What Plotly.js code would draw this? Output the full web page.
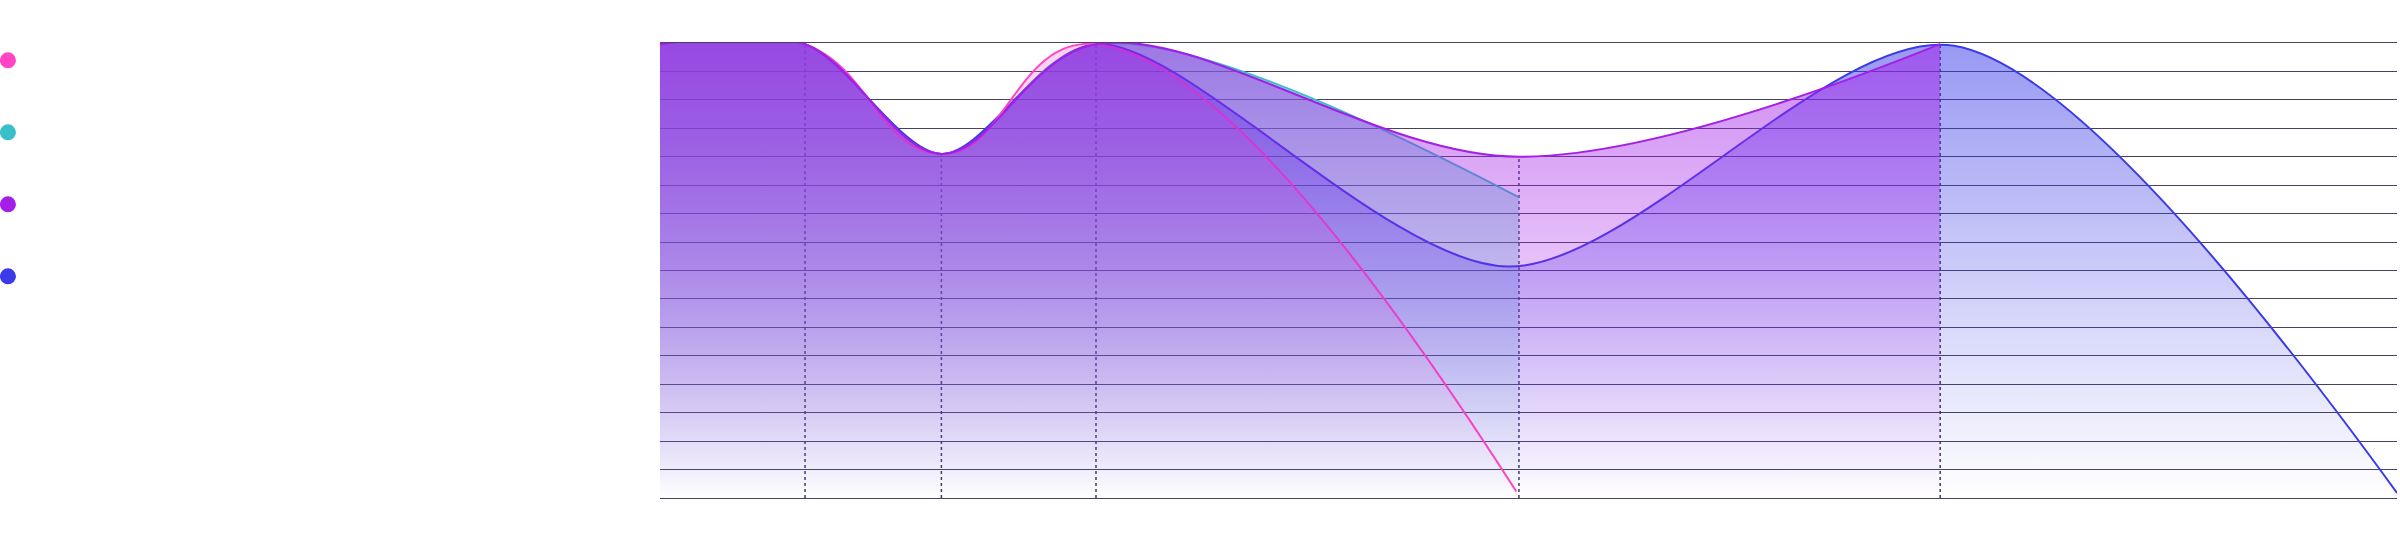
<!DOCTYPE html>
<html>
<head>
<meta charset="utf-8">
<script src="https://cdn.plot.ly/plotly-3.0.1.min.js"></script>
<style>html,body{margin:0;padding:0;background:#fff;}#chart{width:2400px;height:547px;}</style>
</head>
<body>
<div id="chart"></div>
<script>
// ---- data ----
const seriesNames = ["Series A", "Series B", "Series C", "Series D"];
const seriesColors = ["#ff44c4", "#3bbfc6", "#a31fe8", "#3a3ae8"];

const xPink   = [0, 8.35, 16.2, 25.1, 49.3];
const yPink   = [159.6, 159.6, 121, 159.6, 2.3];

const xTeal   = [0, 8.35, 16.2, 25.1, 49.45];
const yTeal   = [159.6, 159.6, 121, 159.6, 105.7];

const xPurple = [0, 8.35, 16.2, 25.1, 49.45, 73.7];
const yPurple = [159.6, 159.6, 121, 159.6, 120, 159.6];

const xBlue   = [0, 8.35, 16.2, 25.1, 48.8, 74.5, 100];
const yBlue   = [159.6, 159.6, 121, 159.6, 81.4, 159, 1.8];

const yMax = 160, yStep = 10, xMax = 100;

function rgba(hex, a) {
  const n = parseInt(hex.slice(1), 16);
  return `rgba(${(n >> 16) & 255},${(n >> 8) & 255},${n & 255},${a})`;
}

function areaTrace(x, y, color, name, smoothing, topAlpha) {
  return {
    type: 'scatter', mode: 'lines', x: x, y: y, name: name,
    line: {color: color, width: 2, shape: 'spline', smoothing: smoothing},
    fill: 'tozeroy',
    fillgradient: {type: 'vertical', start: 0, stop: yMax,
      colorscale: [[0, rgba(color, 0)], [1, rgba(color, topAlpha)]]},
    showlegend: false, hoverinfo: 'skip'
  };
}

// drop lines from purple points (except the first) to the baseline
const dropX = [], dropY = [];
for (let i = 1; i < xPurple.length; i++) {
  dropX.push(xPurple[i], xPurple[i], null);
  dropY.push(0, yPurple[i], null);
}

const traces = [
  {type: 'scatter', mode: 'lines', x: dropX, y: dropY,
   line: {color: 'rgba(45,35,80,0.9)', width: 1.5, dash: 'dot'},
   showlegend: false, hoverinfo: 'skip'},
  areaTrace(xTeal, yTeal, seriesColors[1], seriesNames[1], 1, 0.53),
  areaTrace(xBlue, yBlue, seriesColors[3], seriesNames[3], 0.85, 0.52),
  areaTrace(xPink, yPink, seriesColors[0], seriesNames[0], 1.3, 0.25),
  areaTrace(xPurple, yPurple, seriesColors[2], seriesNames[2], 1, 0.53)
];

// legend entries (dots only, no label)
seriesNames.forEach((n, i) => {
  traces.push({type: 'scatter', mode: 'markers', x: [null], y: [null], name: '',
    marker: {color: seriesColors[i], size: 16}, showlegend: true, hoverinfo: 'skip'});
});

const gridColor = 'rgba(25,20,55,0.8)';
const layout = {
  width: 2400, height: 547,
  margin: {l: 660, r: 3, t: 43, b: 49, autoexpand: false},
  paper_bgcolor: '#ffffff', plot_bgcolor: '#ffffff',
  hovermode: false,
  xaxis: {range: [0, xMax], showgrid: false, zeroline: false, showticklabels: false, ticks: '',
          showline: true, mirror: true, linecolor: gridColor, linewidth: 1, layer: 'below traces', fixedrange: true},
  yaxis: {range: [0, yMax], dtick: yStep, tick0: 0, showgrid: true, gridcolor: gridColor, gridwidth: 1,
          zeroline: false, showticklabels: false, ticks: '', showline: false, fixedrange: true},
  showlegend: true,
  legend: {x: -0.3869, xanchor: 'left', y: 1.052, yanchor: 'top', bgcolor: 'rgba(0,0,0,0)', borderwidth: 0,
           font: {size: 53.08, family: 'Roboto'}, tracegroupgap: 0, itemclick: false, itemdoubleclick: false}
};

Plotly.newPlot('chart', traces, layout, {staticPlot: true, displayModeBar: false});
</script>
</body>
</html>
